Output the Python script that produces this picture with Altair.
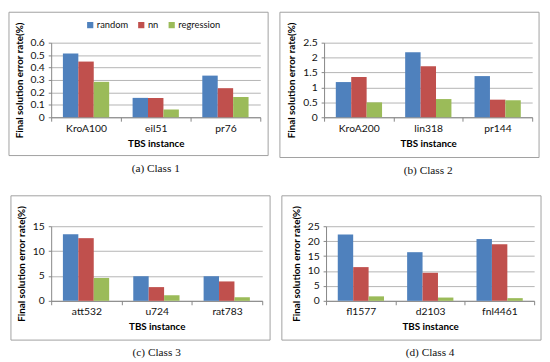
import altair as alt
import pandas as pd

series = ["random", "nn", "regression"]
colors = ["#4F81BD", "#C0504D", "#9BBB59"]

class1_instances = ["KroA100", "eil51", "pr76"]
class1_random = [0.512, 0.156, 0.335]
class1_nn = [0.448, 0.155, 0.234]
class1_regression = [0.285, 0.063, 0.163]

class2_instances = ["KroA200", "lin318", "pr144"]
class2_random = [1.18, 2.18, 1.38]
class2_nn = [1.35, 1.71, 0.59]
class2_regression = [0.50, 0.61, 0.57]

class3_instances = ["att532", "u724", "rat783"]
class3_random = [13.4, 4.95, 4.95]
class3_nn = [12.6, 2.76, 3.9]
class3_regression = [4.6, 1.1, 0.72]

class4_instances = ["fl1577", "d2103", "fnl4461"]
class4_random = [22.2, 16.3, 20.7]
class4_nn = [11.3, 9.4, 19.0]
class4_regression = [1.5, 1.1, 0.9]

FONT = "Lato"


def panel(instances, rnd, nn, reg, ymax, step, caption, geo):
    rows = []
    for i, inst in enumerate(instances):
        for s, v in zip(series, [rnd[i], nn[i], reg[i]]):
            rows.append({"instance": inst, "series": s, "value": v})
    df = pd.DataFrame(rows)
    n = int(round(ymax / step))
    ticks = [round(k * step, 6) for k in range(n + 1)]
    w, h, fl, fr, ft, fb, lx = geo

    bars = alt.Chart(df).mark_bar().encode(
        x=alt.X("instance:N", sort=instances,
                scale=alt.Scale(paddingInner=0, paddingOuter=0),
                axis=alt.Axis(title="TBS instance", labelAngle=0, tickBand="extent",
                              tickSize=4, labelPadding=2, titlePadding=5,
                              domainColor="#868686", tickColor="#868686",
                              labelFont=FONT, labelFontSize=10.5, labelColor="#111",
                              titleFont=FONT, titleFontSize=10, titleFontWeight="bold",
                              titleColor="#000", grid=False)),
        xOffset=alt.XOffset("series:N", sort=series,
                            scale=alt.Scale(paddingInner=0, paddingOuter=0.76)),
        y=alt.Y("value:Q",
                scale=alt.Scale(domain=[0, ymax], nice=False),
                axis=alt.Axis(title="Final solution error rate(%)", values=ticks, format="~g",
                              tickSize=3, labelPadding=4, titlePadding=6,
                              domainColor="#868686", tickColor="#868686",
                              gridColor="#b4b4b4", labelFont=FONT, labelFontSize=10.5,
                              labelColor="#111", titleFont=FONT, titleFontSize=10,
                              titleFontWeight="bold", titleColor="#000")),
        color=alt.Color("series:N", sort=series,
                        scale=alt.Scale(domain=series, range=colors),
                        legend=alt.Legend(title=None, orient="none", legendX=lx, legendY=-23,
                                          direction="horizontal", symbolType="square",
                                          symbolSize=40, symbolStrokeWidth=0,
                                          labelFont=FONT, labelFontSize=9.5, labelColor="#111",
                                          columnPadding=8, labelOffset=2)),
    )

    frame = alt.Chart(pd.DataFrame({"f": [0]})).mark_rect(
        fill=None, stroke="#a0a0a0", strokeWidth=1, clip=False
    ).encode(x=alt.value(fl), x2=alt.value(fr), y=alt.value(ft), y2=alt.value(fb))

    return alt.layer(frame, bars).properties(
        width=w, height=h,
        title=alt.TitleParams(caption, orient="bottom", font="Liberation Serif",
                              fontSize=11.5, fontWeight="normal", color="#111", offset=7),
    )


pa = panel(class1_instances, class1_random, class1_nn, class1_regression, 0.6, 0.1,
           "(a)  Class 1", (213, 76, -43, 221, -31, 115, 35))
pb = panel(class2_instances, class2_random, class2_nn, class2_regression, 2.5, 0.5,
           "(b)  Class 2", (212, 76, -45, 219, -31, 117, 33))
pc = panel(class3_instances, class3_random, class3_nn, class3_regression, 15, 5,
           "(c)  Class 3", (215, 76, -41, 223, -31, 116, 37))
pd_ = panel(class4_instances, class4_random, class4_nn, class4_regression, 25, 5,
            "(d)  Class 4", (212, 76, -45, 219, -31, 116, 33))

chart = alt.vconcat(
    alt.hconcat(pa, pb, spacing=10),
    alt.hconcat(pc, pd_, spacing=10),
    spacing=19,
).properties(padding=0).configure_view(stroke=None).configure_axisY(grid=True)

chart.save("out.html", embed_options={"renderer": "svg", "actions": False})
